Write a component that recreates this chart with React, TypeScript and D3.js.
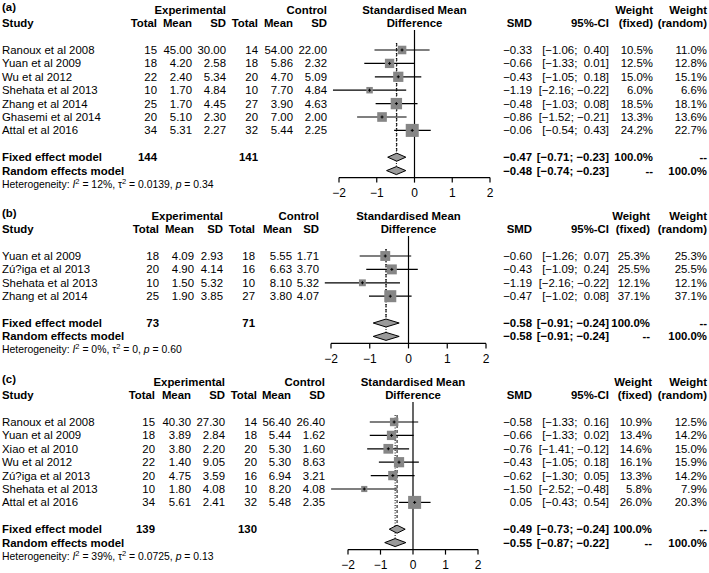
import React from "react";
import * as d3 from "d3";

const FONT = "'Liberation Sans', Arial, Helvetica, sans-serif";

// ---- panel (a)
const studiesA = ["Ranoux et al 2008", "Yuan et al 2009", "Wu et al 2012", "Shehata et al 2013", "Zhang et al 2014", "Ghasemi et al 2014", "Attal et al 2016"];
const expA = [[15, 45.0, 30.0], [18, 4.2, 2.58], [22, 2.4, 5.34], [10, 1.7, 4.84], [25, 1.7, 4.45], [20, 5.1, 2.3], [34, 5.31, 2.27]];
const ctlA = [[14, 54.0, 22.0], [18, 5.86, 2.32], [20, 4.7, 5.09], [10, 7.7, 4.84], [27, 3.9, 4.63], [20, 7.0, 2.0], [32, 5.44, 2.25]];
const smdA = [-0.33, -0.66, -0.43, -1.19, -0.48, -0.86, -0.06];
const lowerA = [-1.06, -1.33, -1.05, -2.16, -1.03, -1.52, -0.54];
const upperA = [0.4, 0.01, 0.18, -0.22, 0.08, -0.21, 0.43];
const wFixedA = [10.5, 12.5, 15.0, 6.0, 18.5, 13.3, 24.2];
const wRandomA = [11.0, 12.8, 15.1, 6.6, 18.1, 13.6, 22.7];
const totalsA = [144, 141];
const fixedA = [-0.47, -0.71, -0.23];
const randomA = [-0.48, -0.74, -0.23];
const hetA = ["12%", "0.0139", "0.34"];

// ---- panel (b)
const studiesB = ["Yuan et al 2009", "Zú?iga et al 2013", "Shehata et al 2013", "Zhang et al 2014"];
const expB = [[18, 4.09, 2.93], [20, 4.9, 4.14], [10, 1.5, 5.32], [25, 1.9, 3.85]];
const ctlB = [[18, 5.55, 1.71], [16, 6.63, 3.7], [10, 8.1, 5.32], [27, 3.8, 4.07]];
const smdB = [-0.6, -0.43, -1.19, -0.47];
const lowerB = [-1.26, -1.09, -2.16, -1.02];
const upperB = [0.07, 0.24, -0.22, 0.08];
const wFixedB = [25.3, 25.5, 12.1, 37.1];
const wRandomB = [25.3, 25.5, 12.1, 37.1];
const totalsB = [73, 71];
const fixedB = [-0.58, -0.91, -0.24];
const randomB = [-0.58, -0.91, -0.24];
const hetB = ["0%", "0", "0.60"];

// ---- panel (c)
const studiesC = ["Ranoux et al 2008", "Yuan et al 2009", "Xiao et al 2010", "Wu et al 2012", "Zú?iga et al 2013", "Shehata et al 2013", "Attal et al 2016"];
const expC = [[15, 40.3, 27.3], [18, 3.89, 2.84], [20, 3.8, 2.2], [22, 1.4, 9.05], [20, 4.75, 3.59], [10, 1.8, 4.08], [34, 5.61, 2.41]];
const ctlC = [[14, 56.4, 26.4], [18, 5.44, 1.62], [20, 5.3, 1.6], [20, 5.3, 8.63], [16, 6.94, 3.21], [10, 8.2, 4.08], [32, 5.48, 2.35]];
const smdC = [-0.58, -0.66, -0.76, -0.43, -0.62, -1.5, 0.05];
const lowerC = [-1.33, -1.33, -1.41, -1.05, -1.3, -2.52, -0.43];
const upperC = [0.16, 0.02, -0.12, 0.18, 0.05, -0.48, 0.54];
const wFixedC = [10.9, 13.4, 14.6, 16.1, 13.3, 5.8, 26.0];
const wRandomC = [12.5, 14.2, 15.0, 15.9, 14.2, 7.9, 20.3];
const totalsC = [139, 130];
const fixedC = [-0.49, -0.73, -0.24];
const randomC = [-0.55, -0.87, -0.22];
const hetC = ["39%", "0.0725", "0.13"];

const axisTicks = [-2, -1, 0, 1, 2];

const fmt = (v: number, d = 2) => (v < 0 ? "\u2212" : "") + Math.abs(v).toFixed(d);
const ci = (lo: number, hi: number) => `[${fmt(lo)}; ${hi >= 0 ? " " : ""}${fmt(hi)}]`;

const Panel = (p) => {
  const { label, top, studies, exp, ctl, smd, lower, upper, wFixed, wRandom, totals, fixed, random, het, cols, xr, right, sqMax } = p;
  const n = studies.length;
  const x = d3.scaleLinear().domain([-2, 2]).range(xr);
  const row = d3.scaleLinear().domain([0, 1]).range([top + 40, top + 53.4]);
  const sq = d3.scaleSqrt().domain([0, d3.max(wFixed)]).range([0, sqMax]);
  const yFixed = row(n + 1);
  const yRandom = row(n + 2);
  const yHet = row(n + 3);
  const axisY = yRandom + 7;
  const dh = 4;
  const diamond = (y, v) =>
    `M${x(v[1])},${y}L${x(v[0])},${y - dh}L${x(v[2])},${y}L${x(v[0])},${y + dh}Z`;

  const T = ({ x, y, anchor = "end", bold = false, size = 11.4, children }) => (
    <text x={x} y={y} dy="0.35em" textAnchor={anchor} fontWeight={bold ? "bold" : "normal"} fontSize={size} style={{ whiteSpace: "pre" }}>
      {children}
    </text>
  );

  return (
    <g fontFamily={FONT} fill="#000">
      <T x={2} y={top - 3} anchor="start" bold>{label}</T>
      {/* table headers */}
      <T x={cols[2]} y={top} bold>Experimental</T>
      <T x={cols[5]} y={top} bold>Control</T>
      <T x={2} y={top + 13} anchor="start" bold>Study</T>
      {["Total", "Mean", "SD", "Total", "Mean", "SD"].map((h, i) => (
        <T key={i} x={cols[i]} y={top + 13} bold>{h}</T>
      ))}
      <T x={x(0)} y={top} anchor="middle" bold>Standardised Mean</T>
      <T x={x(0)} y={top + 13} anchor="middle" bold>Difference</T>
      <T x={right[0]} y={top + 13} bold>SMD</T>
      <T x={right[1]} y={top + 13} bold>95%-CI</T>
      <T x={right[2]} y={top} bold>Weight</T>
      <T x={right[2]} y={top + 13} bold>(fixed)</T>
      <T x={right[3]} y={top} bold>Weight</T>
      <T x={right[3]} y={top + 13} bold>(random)</T>

      {/* study rows */}
      {studies.map((s, i) => {
        const y = row(i);
        return (
          <g key={s}>
            <T x={2} y={y} anchor="start">{s}</T>
            <T x={cols[0]} y={y}>{exp[i][0]}</T>
            <T x={cols[1]} y={y}>{exp[i][1].toFixed(2)}</T>
            <T x={cols[2]} y={y}>{exp[i][2].toFixed(2)}</T>
            <T x={cols[3]} y={y}>{ctl[i][0]}</T>
            <T x={cols[4]} y={y}>{ctl[i][1].toFixed(2)}</T>
            <T x={cols[5]} y={y}>{ctl[i][2].toFixed(2)}</T>
            <T x={right[0]} y={y}>{fmt(smd[i])}</T>
            <T x={right[1]} y={y}>{ci(lower[i], upper[i])}</T>
            <T x={right[2]} y={y}>{wFixed[i].toFixed(1) + "%"}</T>
            <T x={right[3]} y={y}>{wRandom[i].toFixed(1) + "%"}</T>
          </g>
        );
      })}

      {/* pooled rows */}
      <T x={2} y={yFixed} anchor="start" bold>Fixed effect model</T>
      <T x={cols[0]} y={yFixed} bold>{totals[0]}</T>
      <T x={cols[3]} y={yFixed} bold>{totals[1]}</T>
      <T x={right[0]} y={yFixed} bold>{fmt(fixed[0])}</T>
      <T x={right[1]} y={yFixed} bold>{ci(fixed[1], fixed[2])}</T>
      <T x={right[2]} y={yFixed} bold>100.0%</T>
      <T x={right[3]} y={yFixed} bold>--</T>
      <T x={2} y={yRandom} anchor="start" bold>Random effects model</T>
      <T x={right[0]} y={yRandom} bold>{fmt(random[0])}</T>
      <T x={right[1]} y={yRandom} bold>{ci(random[1], random[2])}</T>
      <T x={right[2]} y={yRandom} bold>--</T>
      <T x={right[3]} y={yRandom} bold>100.0%</T>
      <text x={2} y={yHet} dy="0.35em" fontSize={10.4}>
        Heterogeneity: <tspan fontStyle="italic">I</tspan>
        <tspan baselineShift="super" fontSize={7.5}>2</tspan>
        <tspan>{` = ${het[0]}, \u03C4`}</tspan>
        <tspan baselineShift="super" fontSize={7.5}>2</tspan>
        <tspan>{` = ${het[1]}, `}</tspan>
        <tspan fontStyle="italic">p</tspan>
        <tspan>{` = ${het[2]}`}</tspan>
      </text>

      {/* forest */}
      <line x1={x(0)} x2={x(0)} y1={top + 20} y2={axisY} stroke="#000" strokeWidth={1.2} />
      <line x1={x(fixed[0])} x2={x(fixed[0])} y1={row(0) - 7} y2={yFixed - dh} stroke="#000" strokeWidth={1} strokeDasharray="3,2" />
      <line x1={x(random[0])} x2={x(random[0])} y1={row(0) - 7} y2={yRandom - dh} stroke="#000" strokeWidth={1} strokeDasharray="1,1.5" />
      {studies.map((s, i) => {
        const y = row(i);
        const cx = x(smd[i]);
        const h = sq(wFixed[i]);
        return (
          <g key={"f" + s}>
            <line x1={x(lower[i])} x2={x(upper[i])} y1={y} y2={y} stroke="#000" strokeWidth={1.2} />
            <rect x={cx - h / 2} y={y - h / 2} width={h} height={h} fill="#868686" />
            <line x1={cx - 1.5} x2={cx + 1.5} y1={y} y2={y} stroke="#000" strokeWidth={1} />
            <line x1={cx} x2={cx} y1={y - 1.5} y2={y + 1.5} stroke="#000" strokeWidth={1} />
          </g>
        );
      })}
      <path d={diamond(yFixed, fixed)} fill="#9a9a9a" stroke="#000" strokeWidth={1} />
      <path d={diamond(yRandom, random)} fill="#9a9a9a" stroke="#000" strokeWidth={1} />

      {/* axis */}
      <line x1={x(-2)} x2={x(2)} y1={axisY} y2={axisY} stroke="#000" strokeWidth={1.2} />
      {axisTicks.map((t) => (
        <g key={t}>
          <line x1={x(t)} x2={x(t)} y1={axisY} y2={axisY + 5} stroke="#000" strokeWidth={1.2} />
          <T x={x(t)} y={axisY + 15} anchor="middle" size={12}>{fmt(t, 0)}</T>
        </g>
      ))}
    </g>
  );
};

export default function App() {
  return (
    <svg width={709} height={573} style={{ position: "absolute", left: 0, top: 0, background: "#fff" }}>
      <Panel label="(a)" top={10} studies={studiesA} exp={expA} ctl={ctlA} smd={smdA} lower={lowerA} upper={upperA}
        wFixed={wFixedA} wRandom={wRandomA} totals={totalsA} fixed={fixedA} random={randomA} het={hetA}
        cols={[157, 192, 226, 258, 293, 327]} xr={[339, 490]} right={[532, 609, 653, 707]} sqMax={13} />
      <Panel label="(b)" top={216} studies={studiesB} exp={expB} ctl={ctlB} smd={smdB} lower={lowerB} upper={upperB}
        wFixed={wFixedB} wRandom={wRandomB} totals={totalsB} fixed={fixedB} random={randomB} het={hetB}
        cols={[159, 194, 223, 255, 292, 319]} xr={[331, 486]} right={[532, 609, 650, 707]} sqMax={12} />
      <Panel label="(c)" top={382} studies={studiesC} exp={expC} ctl={ctlC} smd={smdC} lower={lowerC} upper={upperC}
        wFixed={wFixedC} wRandom={wRandomC} totals={totalsC} fixed={fixedC} random={randomC} het={hetC}
        cols={[155, 191, 225, 257, 291, 325]} xr={[348, 478]} right={[532, 609, 652, 707]} sqMax={13} />
    </svg>
  );
}
